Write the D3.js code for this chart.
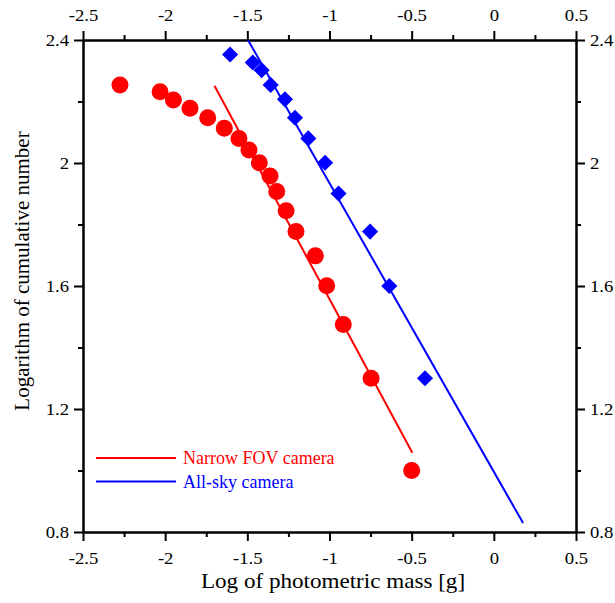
<!DOCTYPE html>
<html>
<head>
<meta charset="utf-8">
<script src="https://cdn.jsdelivr.net/npm/d3@7"></script>
<style>
  body { margin: 0; background: #fff; }
  svg, svg text { font-family: "Liberation Serif", "Times New Roman", serif; }
</style>
</head>
<body>
<svg id="chart"></svg>
<script>
// narrow FOV camera points
const narrowX = [-2.275, -2.031, -1.950, -1.849, -1.741, -1.640, -1.551, -1.490, -1.427,
                 -1.362, -1.321, -1.264, -1.204, -1.086, -1.017, -0.916, -0.747, -0.500];
const narrowY = [2.254, 2.232, 2.205, 2.178, 2.147, 2.113, 2.080, 2.042, 2.001,
                 1.958, 1.907, 1.845, 1.777, 1.698, 1.601, 1.475, 1.300, 1.000];
// all-sky camera points
const allskyX = [-1.605, -1.467, -1.413, -1.358, -1.271, -1.210, -1.129, -1.027, -0.945, -0.753, -0.636, -0.419];
const allskyY = [2.353, 2.327, 2.302, 2.254, 2.207, 2.147, 2.080, 2.001, 1.901, 1.777, 1.600, 1.300];
// fitted lines
const narrowFitX = [-1.700, -0.496];
const narrowFitY = [2.251, 1.058];
const allskyFitX = [-1.496, 0.178];
const allskyFitY = [2.400, 0.829];

const xTicks = [-2.5, -2, -1.5, -1, -0.5, 0, 0.5];
const xMinor = [-2.25, -1.75, -1.25, -0.75, -0.25, 0.25];
const yTicks = [0.8, 1.2, 1.6, 2, 2.4];
const yMinor = [1.0, 1.4, 1.8, 2.2];

const legendLabels = ['Narrow FOV camera', 'All-sky camera'];

const W = 615, H = 603;
const m = {top: 40, right: 39, bottom: 71, left: 83};
const w = W - m.left - m.right;
const h = H - m.top - m.bottom;
const stretch = 1.1; // the original text is a bit wide
const serif = '"Liberation Serif", "Times New Roman", serif';

const svg = d3.select('#chart').attr('width', W).attr('height', H);
const g = svg.append('g').attr('transform', `translate(${m.left},${m.top})`);

const x = d3.scaleLinear().domain([-2.5, 0.5]).range([0, w]);
const y = d3.scaleLinear().domain([0.8, 2.4]).range([h, 0]);

// axes, major + minor ticks on all four sides
function styleAxis(sel, labels) {
  sel.attr('font-family', serif).attr('font-size', 17);
  sel.select('.domain').attr('stroke', '#000').attr('stroke-width', 2);
  sel.selectAll('.tick line').attr('stroke', '#000').attr('stroke-width', 2);
  sel.selectAll('.tick text').attr('fill', '#000')
    .attr('font-family', serif).style('font-family', serif).style('font-size', '17px')
    .attr('x', function() { return +d3.select(this).attr('x') / stretch; })
    .attr('transform', `scale(${stretch},1)`);
  if (!labels) sel.selectAll('.tick text').remove();
}

const fmt = d => String(d);

g.append('g').attr('transform', `translate(0,${h})`)
  .call(d3.axisBottom(x).tickValues(xTicks).tickFormat(fmt).tickSize(9).tickSizeOuter(0).tickPadding(11))
  .call(s => styleAxis(s, true));
g.append('g').attr('transform', `translate(0,${h})`)
  .call(d3.axisBottom(x).tickValues(xMinor).tickSize(5).tickSizeOuter(0))
  .call(s => styleAxis(s, false));

g.append('g')
  .call(d3.axisTop(x).tickValues(xTicks).tickFormat(fmt).tickSize(9).tickSizeOuter(0).tickPadding(10))
  .call(s => styleAxis(s, true));
g.append('g')
  .call(d3.axisTop(x).tickValues(xMinor).tickSize(5).tickSizeOuter(0))
  .call(s => styleAxis(s, false));

g.append('g')
  .call(d3.axisLeft(y).tickValues(yTicks).tickFormat(fmt).tickSize(9).tickSizeOuter(0).tickPadding(5))
  .call(s => styleAxis(s, true));
g.append('g')
  .call(d3.axisLeft(y).tickValues(yMinor).tickSize(5).tickSizeOuter(0))
  .call(s => styleAxis(s, false));

g.append('g').attr('transform', `translate(${w},0)`)
  .call(d3.axisRight(y).tickValues(yTicks).tickFormat(fmt).tickSize(9).tickSizeOuter(0).tickPadding(5))
  .call(s => styleAxis(s, true));
g.append('g').attr('transform', `translate(${w},0)`)
  .call(d3.axisRight(y).tickValues(yMinor).tickSize(5).tickSizeOuter(0))
  .call(s => styleAxis(s, false));

// fit lines
const line = d3.line().x(d => x(d[0])).y(d => y(d[1]));
g.append('path').datum(d3.zip(narrowFitX, narrowFitY))
  .attr('d', line).attr('fill', 'none').attr('stroke', '#ff0000').attr('stroke-width', 2);
g.append('path').datum(d3.zip(allskyFitX, allskyFitY))
  .attr('d', line).attr('fill', 'none').attr('stroke', '#0000ff').attr('stroke-width', 2);

// markers
g.selectAll('.narrow').data(d3.zip(narrowX, narrowY)).join('circle')
  .attr('class', 'narrow')
  .attr('cx', d => x(d[0])).attr('cy', d => y(d[1])).attr('r', 8.5)
  .attr('fill', '#ff0000');

const diamond = d3.symbol().type(d3.symbolSquare).size(130);
g.selectAll('.allsky').data(d3.zip(allskyX, allskyY)).join('path')
  .attr('class', 'allsky')
  .attr('d', diamond)
  .attr('transform', d => `translate(${x(d[0])},${y(d[1])}) rotate(45)`)
  .attr('fill', '#0000ff');

// legend
const legColors = ['#ff0000', '#0000ff'];
const leg = g.append('g').attr('transform', 'translate(13,418)');
legendLabels.forEach((lab, i) => {
  leg.append('line').attr('x1', 0).attr('x2', 80).attr('y1', i * 23.5).attr('y2', i * 23.5)
    .attr('stroke', legColors[i]).attr('stroke-width', 2);
  leg.append('text').attr('x', 87).attr('y', i * 23.5 + 6)
    .attr('fill', legColors[i]).style('font-size', '18px').text(lab);
});

// axis titles
svg.append('text').attr('transform', `translate(333,588) scale(${stretch},1)`)
  .attr('text-anchor', 'middle').style('font-size', '21px')
  .text('Log of photometric mass [g]');
svg.append('text').attr('transform', 'translate(29,271) rotate(-90)')
  .attr('text-anchor', 'middle').style('font-size', '21px')
  .text('Logarithm of cumulative number');
</script>
</body>
</html>
